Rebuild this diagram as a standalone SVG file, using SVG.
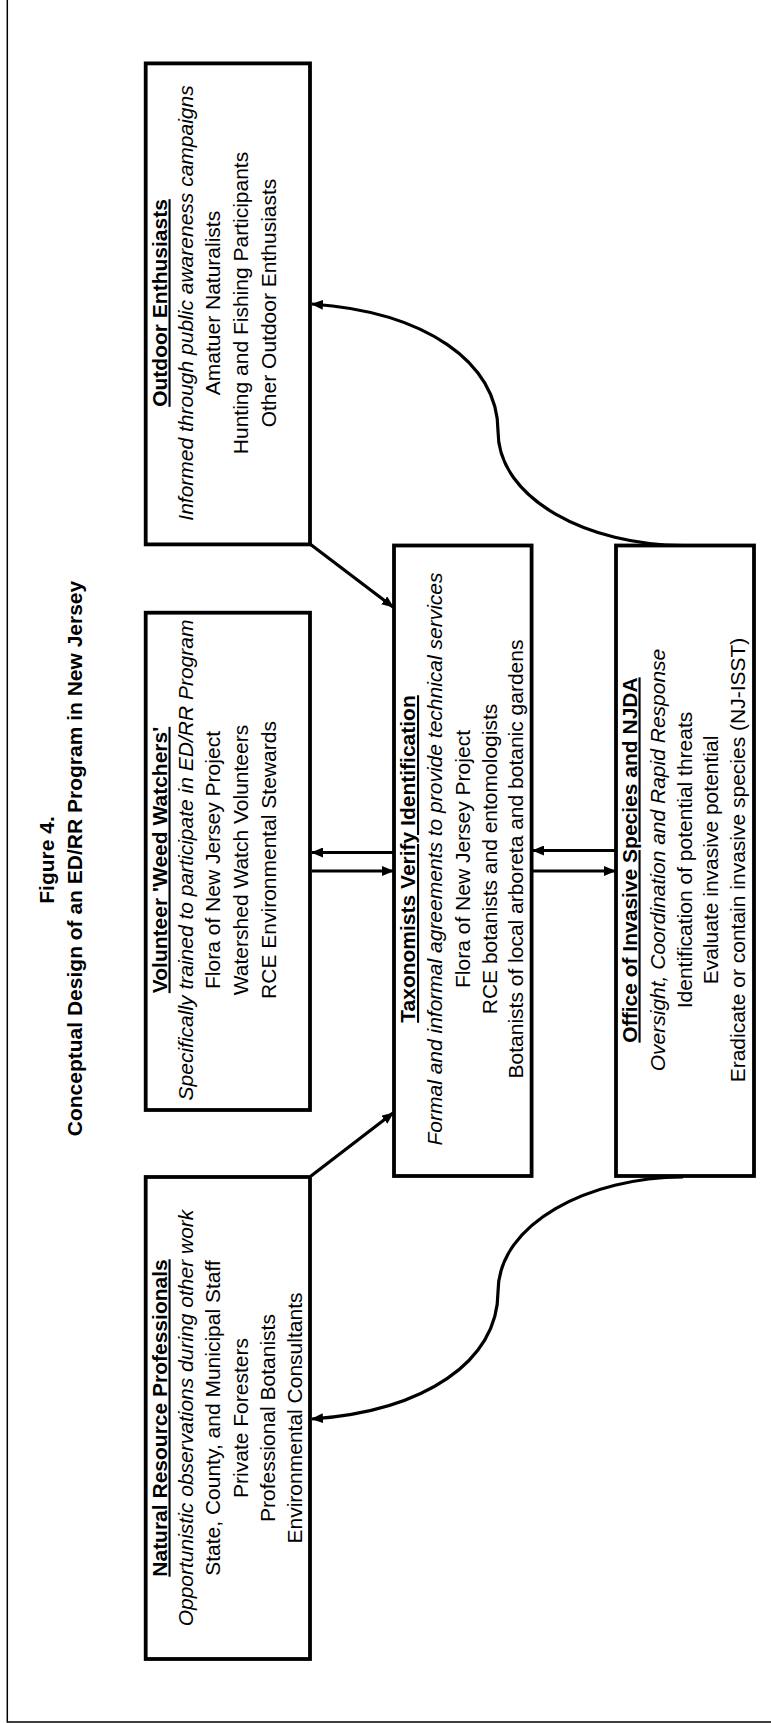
<svg xmlns="http://www.w3.org/2000/svg" width="771" height="1723" viewBox="0 0 771 1723">
<style>
text{font-family:"Liberation Sans",Arial,sans-serif;font-size:21px;fill:#000;text-anchor:middle}
.b{font-weight:bold}
.u{font-weight:bold;text-decoration:underline}
.i{font-style:italic}
.box{fill:#fff;stroke:#000;stroke-width:3.8}
.ln{fill:none;stroke:#000;stroke-width:3.2}
.frame{fill:none;stroke:#000;stroke-width:1.5}
</style>
<defs>
<marker id="ah" markerWidth="12" markerHeight="10" refX="11" refY="5" orient="auto" markerUnits="userSpaceOnUse"><path d="M0,0 L12,5 L0,10 z" fill="#000"/></marker>
</defs>
<rect width="771" height="1723" fill="#fff"/>
<path class="frame" d="M7.3,0 V1722 H771"/>

<g id="title">
<text class="b" transform="translate(54,860) rotate(-90)">Figure 4.</text>
<text class="b" transform="translate(82,858.5) rotate(-90)">Conceptual Design of an ED/RR Program in New  Jersey</text>
</g>

<g id="outdoor">
<rect class="box" x="145.7" y="63.4" width="164.3" height="481"/>
<g transform="translate(0,303) rotate(-90)">
<text class="u" x="0" y="166.5">Outdoor Enthusiasts</text>
<text class="i" x="0" y="193">Informed through public awareness campaigns</text>
<text x="0" y="220">Amatuer Naturalists</text>
<text x="0" y="248">Hunting and Fishing Participants</text>
<text x="0" y="276">Other Outdoor Enthusiasts</text>
</g>
</g>

<g id="volunteer">
<rect class="box" x="145.7" y="612.7" width="164.3" height="497.3"/>
<g transform="translate(0,860) rotate(-90)">
<text class="u" x="0" y="166.5">Volunteer 'Weed Watchers'</text>
<text class="i" x="0" y="193">Specifically trained to participate in ED/RR Program</text>
<text x="0" y="220">Flora of New Jersey Project</text>
<text x="0" y="248">Watershed Watch Volunteers</text>
<text x="0" y="276">RCE Environmental Stewards</text>
</g>
</g>

<g id="natural">
<rect class="box" x="145.7" y="1177" width="164.3" height="482"/>
<g transform="translate(0,1418) rotate(-90)">
<text class="u" x="0" y="166.5">Natural Resource Professionals</text>
<text class="i" x="0" y="193">Opportunistic observations during other work</text>
<text x="0" y="220">State, County, and Municipal Staff</text>
<text x="0" y="248">Private Foresters</text>
<text x="0" y="275">Professional Botanists</text>
<text x="0" y="302">Environmental Consultants</text>
</g>
</g>

<g id="taxonomists">
<rect class="box" x="394" y="545.5" width="137.6" height="630.5"/>
<g transform="translate(0,859) rotate(-90)">
<text class="u" x="0" y="415">Taxonomists Verify Identification</text>
<text class="i" x="0" y="442">Formal and informal agreements to provide technical services</text>
<text x="0" y="470">Flora of New Jersey Project</text>
<text x="0" y="497">RCE botanists and entomologists</text>
<text x="0" y="523">Botanists of local arboreta and botanic gardens</text>
</g>
</g>

<g id="office">
<rect class="box" x="616" y="545.5" width="138" height="630.5"/>
<g transform="translate(0,860) rotate(-90)">
<text class="u" x="0" y="636.5">Office of Invasive  Species and NJDA</text>
<text class="i" x="0" y="665">Oversight, Coordination and Rapid Response</text>
<text x="0" y="692">Identification of potential threats</text>
<text x="0" y="718">Evaluate invasive potential</text>
<text x="0" y="745">Eradicate or contain invasive species (NJ-ISST)</text>
</g>
</g>

<g id="connectors">
<path class="ln" d="M310,544 L393,607" marker-end="url(#ah)"/>
<path class="ln" d="M311,1176 L393,1113" marker-end="url(#ah)"/>
<path class="ln" d="M394,852.5 L312,852.5" marker-end="url(#ah)"/>
<path class="ln" d="M312,871 L393,871" marker-end="url(#ah)"/>
<path class="ln" d="M616,850.5 L533,850.5" marker-end="url(#ah)"/>
<path class="ln" d="M533,871 L615,871" marker-end="url(#ah)"/>
<path class="ln" d="M683,545.5 C590,545.5 498,500 498,431 C498,362 425,312 312,304" marker-end="url(#ah)"/>
<path class="ln" d="M683,1177 C590,1177 498,1223 498,1292 C498,1361 425,1411 312,1419" marker-end="url(#ah)"/>
</g>
</svg>
